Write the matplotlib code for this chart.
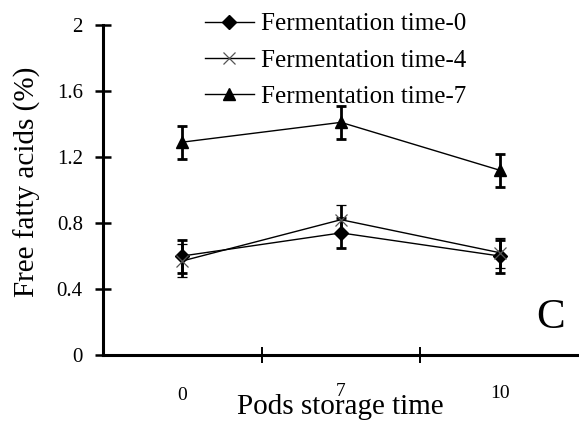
import matplotlib
matplotlib.use("Agg")
import matplotlib.pyplot as plt

categories = ["0", "7", "10"]
series_names = ["Fermentation time-0", "Fermentation time-4", "Fermentation time-7"]
ft0 = [0.60, 0.74, 0.60]
ft4 = [0.57, 0.82, 0.62]
ft7 = [1.29, 1.41, 1.12]
err0 = [0.10, 0.09, 0.10]
err4 = [0.10, 0.09, 0.09]
err7 = [0.10, 0.10, 0.10]
yticks = [0, 0.4, 0.8, 1.2, 1.6, 2]
ytick_labels = ["0", "0.4", "0.8", "1.2", "1.6", "2"]

plt.rcParams['font.family'] = ['Liberation Serif', 'DejaVu Serif']

W, H = 579, 421
fig = plt.figure(figsize=(W / 100, H / 100), dpi=100)
ax = fig.add_axes([103 / W, 1 - 355 / H, (W - 103) / W, (355 - 25) / H])

x = [0.5, 1.5, 2.5]
styles = [
    dict(marker='D', markersize=7, mfc='black', mec='black'),
    dict(marker='x', markersize=9, mfc='white', mec='#555555', mew=0.9),
    dict(marker='^', markersize=9, mfc='black', mec='black'),
]
handles = []
for vals, errs, name, st in zip([ft0, ft4, ft7], [err0, err4, err7], series_names, styles):
    c = ax.errorbar(x, vals, yerr=errs, color='black', lw=1.0, elinewidth=2.0,
                    capsize=3.8, capthick=2.0, label=name, **st)
    handles.append(c.lines[0])

ax.set_xlim(0, 3)
ax.set_ylim(0, 2)
ax.set_yticks(yticks)
ax.set_yticklabels(ytick_labels, fontsize=15)
ax.set_xticks([1, 2])
ax.set_xticklabels([])
ax.tick_params(axis='y', direction='inout', length=11, width=1.8, pad=9)
ax.tick_params(axis='x', direction='inout', length=11, width=1.4)
for s in ['top', 'right']:
    ax.spines[s].set_visible(False)
for s in ['left', 'bottom']:
    ax.spines[s].set_linewidth(2.2)

# category labels
label_offsets = [-40, -37, -38]
for xi, lab, off in zip(x, categories, label_offsets):
    ax.annotate(lab, xy=(xi, 0), xycoords='data', xytext=(0, off),
                textcoords='offset pixels', ha='center', va='center', fontsize=14)

fig.text(27 / W, 1 - 182 / H, "Free fatty acids (%)", rotation=90,
         ha='center', va='center', fontsize=21)
fig.text(340 / W, 1 - 407 / H, "Pods storage time", ha='center', va='center', fontsize=21)
ax.text(2.82, 0.225, "C", fontsize=31, ha='center', va='center')

leg = ax.legend(handles=handles, labels=series_names, loc='upper left',
                bbox_to_anchor=(205 / W, 1 - 13 / H), bbox_transform=fig.transFigure,
                frameon=False, fontsize=18, handlelength=1.95, handletextpad=0.28,
                labelspacing=0.55, borderpad=0, borderaxespad=0)

fig.savefig("out.png", dpi=100)
